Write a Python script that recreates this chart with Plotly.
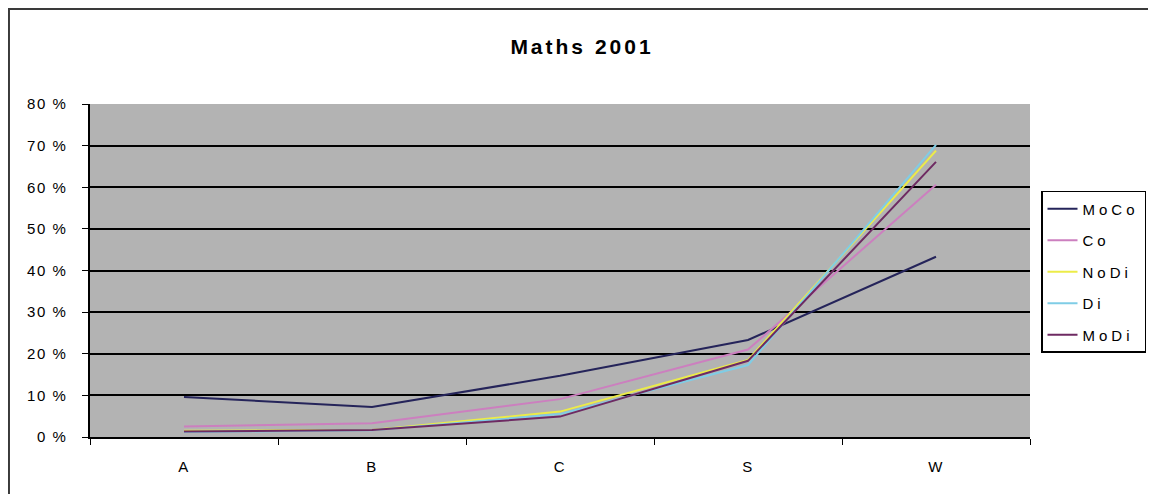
import plotly.graph_objects as go

categories = ["A", "B", "C", "S", "W"]
series_names = ["MoCo", "Co", "NoDi", "Di", "MoDi"]
moco = [0.096, 0.072, 0.147, 0.233, 0.433]
co = [0.025, 0.033, 0.091, 0.210, 0.606]
nodi = [0.015, 0.017, 0.061, 0.185, 0.688]
di = [0.012, 0.016, 0.055, 0.173, 0.702]
modi = [0.013, 0.017, 0.049, 0.183, 0.661]
y_tickvals = [0, 0.1, 0.2, 0.3, 0.4, 0.5, 0.6, 0.7, 0.8]
y_ticktext = ["0 %", "10 %", "20 %", "30 %", "40 %", "50 %", "60 %", "70 %", "80 %"]
colors = ["#25245a", "#cc7fbf", "#ecec48", "#7fcde6", "#6e2a62"]

values = [moco, co, nodi, di, modi]

fig = go.Figure()
for name, vals, col in zip(series_names, values, colors):
    fig.add_trace(go.Scatter(
        x=categories, y=vals, mode="lines", name=name,
        line=dict(color=col, width=2), legendgroup=name,
    ))

font = "Liberation Sans, Arial, sans-serif"
fig.update_layout(
    width=1148, height=486,
    margin=dict(l=82, r=126, t=96, b=57, autoexpand=False),
    paper_bgcolor="white",
    plot_bgcolor="#b3b3b3",
    font=dict(family=font, size=15, color="black"),
    title=dict(text="<b>Maths 2001</b>", x=0.5, xanchor="center",
               xref="container", y=0.92, yanchor="middle",
               font=dict(size=21)),
    showlegend=True,
    legend=dict(x=(1033 - 82) / 940, xref="paper", y=0.739,
                xanchor="left", yanchor="top",
                bgcolor="white", bordercolor="black", borderwidth=1.5,
                font=dict(size=15), tracegroupgap=9,
                itemwidth=30),
    xaxis=dict(type="category", showgrid=False, showline=True,
               linecolor="black", linewidth=1.5, ticks="outside",
               tickson="boundaries", ticklen=6, tickcolor="black",
               tickfont=dict(size=15), range=[-0.5, 4.5],
               ticklabelstandoff=15),
    yaxis=dict(range=[0, 0.8], tickvals=y_tickvals, ticktext=y_ticktext,
               showgrid=True, gridcolor="black", gridwidth=1.5,
               showline=True, linecolor="black", linewidth=1.5,
               ticks="outside", ticklen=6, tickcolor="black",
               zeroline=False, tickfont=dict(size=15),
               ticklabelstandoff=12),
    shapes=[dict(type="rect", xref="paper", yref="paper",
                 x0=-0.0862, x1=1.133, y0=-0.3, y1=1.2853,
                 line=dict(color="#3a3a3a", width=2), fillcolor="rgba(0,0,0,0)",
                 layer="above")],
)

post = """
var st = document.createElement('style');
st.textContent = '.gtitle{letter-spacing:3px}' +
  '.xtick text,.ytick text{letter-spacing:1.5px}' +
  '.legendtext{letter-spacing:4px}';
document.head.appendChild(st);
var gd = document.getElementById('{plot_id}');
var L = JSON.parse(JSON.stringify(gd.layout));
L.font.family = 'Liberation Sans, sans-serif';
Plotly.newPlot(gd, gd.data, L);
"""

fig.write_html("out.html", post_script=post)
